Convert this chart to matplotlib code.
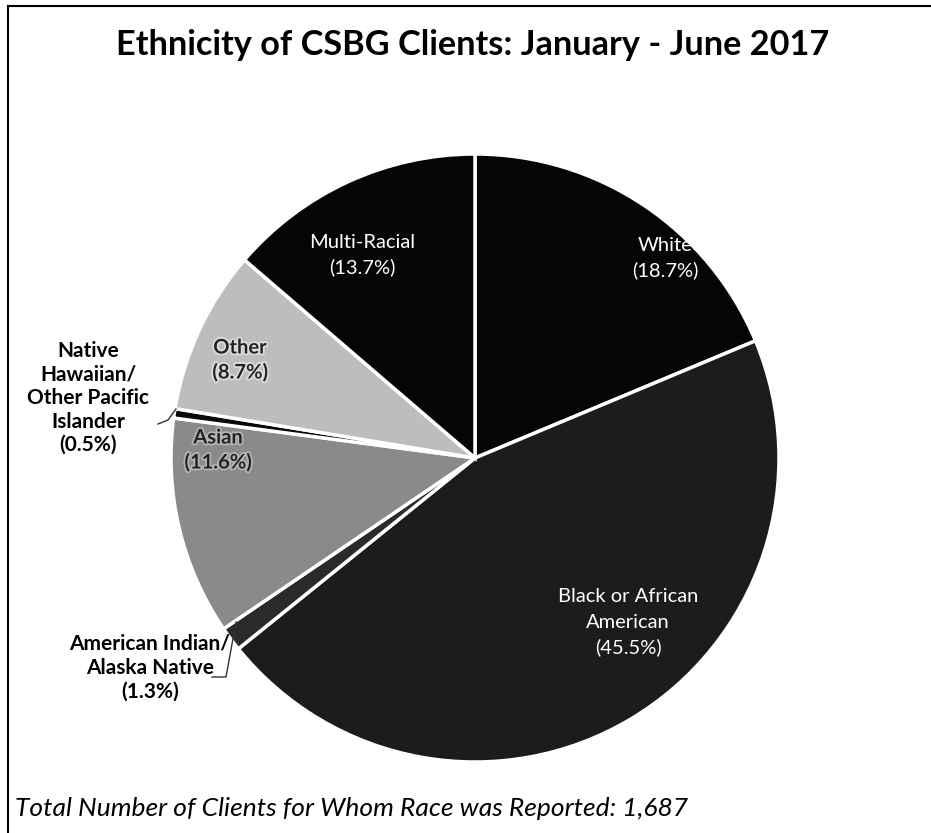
import matplotlib
matplotlib.use("Agg")
import matplotlib.pyplot as plt
import matplotlib.patheffects as pe

categories = ["White", "Black or African American", "American Indian/ Alaska Native",
              "Asian", "Native Hawaiian/ Other Pacific Islander", "Other", "Multi-Racial"]
values = [18.7, 45.5, 1.3, 11.6, 0.5, 8.7, 13.7]
colors = ["#050505", "#1c1c1c", "#2a2a2a", "#8a8a8a", "#0a0a0a", "#bdbdbd", "#050505"]
title = "Ethnicity of CSBG Clients: January - June 2017"
footer = "Total Number of Clients for Whom Race was Reported: 1,687"

W, H = 931, 833
fig = plt.figure(figsize=(W / 100, H / 100), dpi=100)
ax = fig.add_axes([0, 0, 1, 1])

cx, cy, r = 475, H - 458, 304
wedges, _ = ax.pie(values, colors=colors, startangle=90, counterclock=False,
                   center=(cx, cy), radius=r,
                   wedgeprops=dict(edgecolor="white", linewidth=2.5))
ax.set_xlim(0, W)
ax.set_ylim(0, H)
ax.set_aspect("equal")
ax.axis("off")

# border
ax.plot([8, 8], [0, H - 6], color="black", lw=1.5)
ax.plot([8, W], [H - 6, H - 6], color="black", lw=1.5)

font = "Lato"
ax.text(473, H - 45, title, ha="center", va="center", fontsize=24.7,
        fontweight="bold", family=font, zorder=10)

def lab(x, y, lines, color, weight="normal", size=14.5, halo=None, step=25):
    n = len(lines)
    for i, s in enumerate(lines):
        yy = y + (i - (n - 1) / 2) * step
        t = ax.text(x, H - yy, s, ha="center", va="center", fontsize=size, color=color,
                    fontweight=weight, family=font, zorder=10)
        if halo:
            t.set_path_effects([pe.withStroke(linewidth=2.5, foreground=halo)])

lab(665, 258, [categories[0], f"({values[0]}%)"], "white")
lab(362, 255, [categories[6], f"({values[6]}%)"], "white")
lab(628, 622, ["Black or African", "American", f"({values[1]}%)"], "white")
lab(240, 360, [categories[5], f"({values[5]}%)"], "#222222", "bold", halo="#dddddd")
lab(218, 450, [categories[3], f"({values[3]}%)"], "#222222", "bold", halo="#b5b5b5")
lab(88, 398, ["Native", "Hawaiian/", "Other Pacific", "Islander", f"({values[4]}%)"],
    "black", "bold", size=15, step=23.5)
lab(150, 668, ["American Indian/", "Alaska Native", f"({values[2]}%)"],
    "black", "bold", size=15, step=24)

# leader lines
ax.plot([158, 168, 176], [H - 424, H - 420, H - 409], color="#333333", lw=1)
ax.plot([212, 226, 236], [H - 677, H - 677, H - 622], color="#333333", lw=1)

ax.text(15, H - 808, footer, ha="left", va="center", fontsize=19,
        style="italic", family=font)

fig.savefig("out.png", dpi=100)
